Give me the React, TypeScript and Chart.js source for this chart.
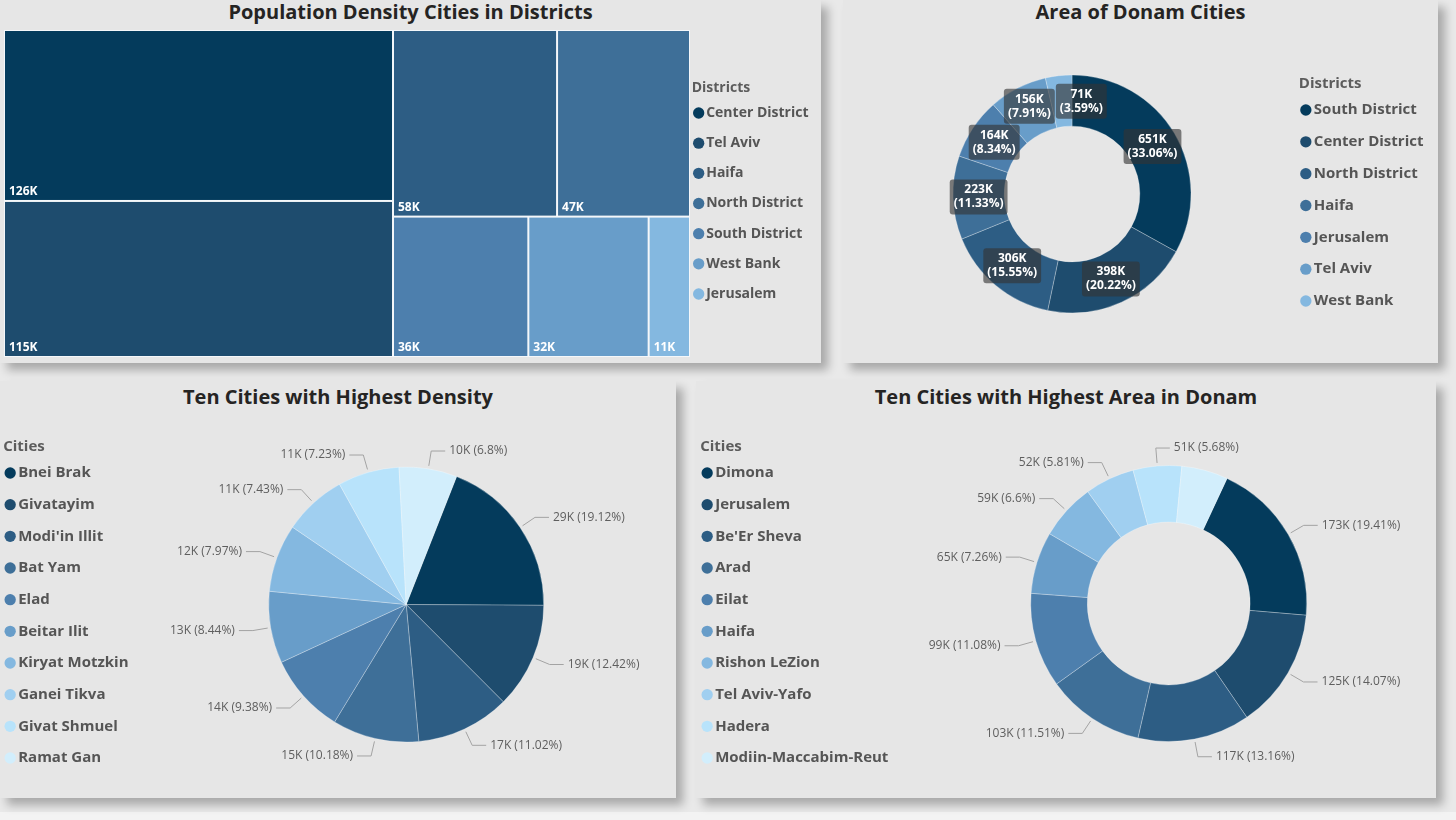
import React, { useEffect, useRef } from 'react';
import { Chart, registerables } from 'chart.js';

Chart.register(...registerables);

const FONT = "'Open Sans', 'Noto Sans', 'DejaVu Sans', sans-serif";
Chart.defaults.font.family = FONT;

const TITLE_TEXT = '#252423';
const LEGEND_TEXT = '#555555';
const HEADING_TEXT = '#5c5c5c';
const LABEL_TEXT = '#5e5e5e';
const LEADER_LINE = '#a3a3a3';

// Sequential blue palette shared by every visual
const BLUES = ['#043b5c', '#1e4c6e', '#2d5d84', '#3e6f98', '#4d7fad', '#689dc9', '#84b8e0', '#a0cff0', '#b8e3fb', '#d2eefc'];

// Population density per district (treemap)
const DENSITY_DISTRICTS = ['Center District', 'Tel Aviv', 'Haifa', 'North District', 'South District', 'West Bank', 'Jerusalem'];
const DENSITY_VALUES = [126000, 115000, 58000, 47000, 36000, 32000, 11000];

// Area in donam per district
const AREA_DISTRICTS = ['South District', 'Center District', 'North District', 'Haifa', 'Jerusalem', 'Tel Aviv', 'West Bank'];
const AREA_VALUES = [650951, 398132, 306180, 223088, 164215, 155748, 70687];

// Ten densest cities
const DENSE_CITIES = ['Bnei Brak', 'Givatayim', "Modi'in Illit", 'Bat Yam', 'Elad', 'Beitar Ilit', 'Kiryat Motzkin', 'Ganei Tikva', 'Givat Shmuel', 'Ramat Gan'];
const DENSE_CITY_VALUES = [29005, 18841, 16717, 15443, 14229, 12803, 12090, 11271, 10968, 10316];

// Ten largest cities by area in donam
const LARGE_CITIES = ['Dimona', 'Jerusalem', "Be'Er Sheva", 'Arad', 'Eilat', 'Haifa', 'Rishon LeZion', 'Tel Aviv-Yafo', 'Hadera', 'Modiin-Maccabim-Reut'];
const LARGE_CITY_VALUES = [173001, 125406, 117295, 102589, 98756, 64708, 58826, 51785, 50626, 48308];

const fmtK = (v: number) => `${Math.round(v / 1000)}K`;
const sumOf = (vals: number[]) => vals.reduce((s, v) => s + v, 0);
const fmtPct = (v: number, sum: number) => `${parseFloat(((v / sum) * 100).toFixed(2))}%`;

// Legend geometry shared by the four visuals
const LEGEND_BOX_W = 1;
const LEGEND_BOX_H = 8;

// Width Chart.js gives a single-column vertical legend (padding + marker + gap + text + 10)
function legendWidth(names: string[], fontSize: number, padding: number) {
  const ctx = document.createElement('canvas').getContext('2d')!;
  ctx.font = `bold ${fontSize}px ${FONT}`;
  const textW = Math.max(...names.map((t) => ctx.measureText(t).width));
  return padding + LEGEND_BOX_W + fontSize / 2 + textW + 10;
}

type Rect = { i: number; x0: number; y0: number; x1: number; y1: number };

// Squarified treemap layout (golden-ratio target), same scheme as d3.treemapSquarify
function squarify(values: number[], X0: number, Y0: number, X1: number, Y1: number): Rect[] {
  const ratio = (1 + Math.sqrt(5)) / 2;
  const order = values.map((_, i) => i).sort((a, b) => values[b] - values[a]);
  const out: Rect[] = [];
  let x0 = X0, y0 = Y0;
  const x1 = X1, y1 = Y1;
  let value = sumOf(values);
  let i0 = 0, i1 = 0;
  const n = order.length;
  while (i0 < n) {
    const dx = x1 - x0, dy = y1 - y0;
    let sumValue = values[order[i1++]];
    let minValue = sumValue, maxValue = sumValue;
    const alpha = Math.max(dy / dx, dx / dy) / (value * ratio);
    let beta = sumValue * sumValue * alpha;
    let minRatio = Math.max(maxValue / beta, beta / minValue);
    for (; i1 < n; ++i1) {
      const nodeValue = values[order[i1]];
      sumValue += nodeValue;
      if (nodeValue < minValue) minValue = nodeValue;
      if (nodeValue > maxValue) maxValue = nodeValue;
      beta = sumValue * sumValue * alpha;
      const newRatio = Math.max(maxValue / beta, beta / minValue);
      if (newRatio > minRatio) { sumValue -= nodeValue; break; }
      minRatio = newRatio;
    }
    const row = order.slice(i0, i1);
    if (dx < dy) {
      const ny = y0 + (dy * sumValue) / value;
      let cx = x0;
      for (const k of row) {
        const w = (dx * values[k]) / sumValue;
        out.push({ i: k, x0: cx, y0, x1: cx + w, y1: ny });
        cx += w;
      }
      y0 = ny;
    } else {
      const nx = x0 + (dx * sumValue) / value;
      let cy = y0;
      for (const k of row) {
        const h = (dy * values[k]) / sumValue;
        out.push({ i: k, x0, y0: cy, x1: nx, y1: cy + h });
        cy += h;
      }
      x0 = nx;
    }
    value -= sumValue;
    i0 = i1;
  }
  return out;
}

// Draws the treemap cells inside the unit square of the x/y scales
const treemapPlugin = {
  id: 'treemap',
  afterDatasetsDraw(chart: any) {
    const ds = chart.data.datasets[0];
    const values: number[] = ds.tree;
    const colors: string[] = ds.colors;
    const xs = chart.scales.x, ys = chart.scales.y;
    const left = xs.getPixelForValue(0), right = xs.getPixelForValue(1);
    const top = ys.getPixelForValue(0), bottom = ys.getPixelForValue(1);
    const ctx = chart.ctx;
    ctx.save();
    ctx.fillStyle = '#f4f7fa';
    ctx.fillRect(left, top, right - left, bottom - top);
    const cells = squarify(values, left, top, right, bottom);
    ctx.font = `bold 12px ${FONT}`;
    ctx.textAlign = 'left';
    ctx.textBaseline = 'middle';
    for (const c of cells) {
      ctx.fillStyle = colors[c.i];
      ctx.fillRect(c.x0 + 1, c.y0 + 1, c.x1 - c.x0 - 2, c.y1 - c.y0 - 2);
      ctx.fillStyle = '#ffffff';
      ctx.fillText(fmtK(values[c.i]), c.x0 + 5, c.y1 - 9);
    }
    ctx.restore();
  },
};

type Box = { x: number; y: number; w: number; h: number; l1: string; l2: string };
const boxesOverlap = (a: Box, b: Box) =>
  Math.abs(a.x - b.x) < (a.w + b.w) / 2 + 1 && Math.abs(a.y - b.y) < (a.h + b.h) / 2 + 1;

// Value / percentage tags sitting on the donut ring
const boxLabelPlugin = {
  id: 'boxLabels',
  afterDatasetsDraw(chart: any) {
    const meta = chart.getDatasetMeta(0);
    const vals: number[] = chart.data.datasets[0].data;
    const sum = sumOf(vals);
    const ctx = chart.ctx;
    ctx.save();
    ctx.font = `bold 12px ${FONT}`;
    const placed: Box[] = [];
    meta.data.forEach((arc: any, i: number) => {
      const p = arc.tooltipPosition(true);
      const l1 = fmtK(vals[i]);
      const l2 = `(${fmtPct(vals[i], sum)})`;
      const w = Math.max(ctx.measureText(l1).width, ctx.measureText(l2).width) + 8;
      const box: Box = { x: p.x, y: p.y, w, h: 35, l1, l2 };
      for (let pass = 0; pass < 4; pass++) {
        const hit = placed.find((b) => boxesOverlap(box, b));
        if (!hit) break;
        const cands = [
          { x: box.x, y: hit.y - (hit.h + box.h) / 2 - 1 },
          { x: box.x, y: hit.y + (hit.h + box.h) / 2 + 1 },
          { x: hit.x - (hit.w + box.w) / 2 - 1, y: box.y },
          { x: hit.x + (hit.w + box.w) / 2 + 1, y: box.y },
        ].map((c) => ({ ...c, d: Math.hypot(c.x - box.x, c.y - box.y) }));
        cands.sort((a, b) => a.d - b.d);
        const free = cands.find((c) => !placed.some((b) => boxesOverlap({ ...box, x: c.x, y: c.y }, b))) || cands[0];
        box.x = free.x;
        box.y = free.y;
      }
      placed.push(box);
    });
    placed.forEach((b) => {
      ctx.fillStyle = 'rgba(52,52,52,0.62)';
      ctx.beginPath();
      ctx.roundRect(b.x - b.w / 2, b.y - b.h / 2, b.w, b.h, 3);
      ctx.fill();
      ctx.fillStyle = '#ffffff';
      ctx.textAlign = 'center';
      ctx.textBaseline = 'middle';
      ctx.fillText(b.l1, b.x, b.y - 7);
      ctx.fillText(b.l2, b.x, b.y + 7);
    });
    ctx.restore();
  },
};

// Outside labels with leader lines; labels that would collide are skipped
const calloutPlugin = {
  id: 'callouts',
  afterDatasetsDraw(chart: any) {
    const meta = chart.getDatasetMeta(0);
    const vals: number[] = chart.data.datasets[0].data;
    const sum = sumOf(vals);
    const ctx = chart.ctx;
    ctx.save();
    ctx.font = `12px ${FONT}`;
    ctx.textBaseline = 'middle';
    ctx.lineWidth = 1;
    const placed: { l: number; r: number; t: number; b: number }[] = [];
    meta.data.forEach((arc: any, i: number) => {
      const { x, y, startAngle, endAngle, outerRadius } = arc.getProps(['x', 'y', 'startAngle', 'endAngle', 'outerRadius'], true);
      const a = (startAngle + endAngle) / 2;
      const ux = Math.cos(a), uy = Math.sin(a);
      const side = ux > -0.1 ? 1 : -1;
      const p1x = x + ux * (outerRadius + 3), p1y = y + uy * (outerRadius + 3);
      const p2x = x + ux * (outerRadius + 18), p2y = y + uy * (outerRadius + 18);
      const p3x = p2x + side * 14;
      const text = `${fmtK(vals[i])} (${fmtPct(vals[i], sum)})`;
      const tw = ctx.measureText(text).width;
      const tx = p3x + side * 4;
      const rect = side > 0 ? { l: tx, r: tx + tw, t: p2y - 7, b: p2y + 7 } : { l: tx - tw, r: tx, t: p2y - 7, b: p2y + 7 };
      if (placed.some((q) => q.l < rect.r && rect.l < q.r && q.t < rect.b && rect.t < q.b)) return;
      placed.push(rect);
      ctx.strokeStyle = LEADER_LINE;
      ctx.beginPath();
      ctx.moveTo(p1x, p1y);
      ctx.lineTo(p2x, p2y);
      ctx.lineTo(p3x, p2y);
      ctx.stroke();
      ctx.fillStyle = LABEL_TEXT;
      ctx.textAlign = side > 0 ? 'left' : 'right';
      ctx.fillText(text, tx, p2y);
    });
    ctx.restore();
  },
};

// Heading above the legend items, aligned with the markers
const legendHeadingPlugin = {
  id: 'legendHeading',
  afterDraw(chart: any, _args: any, opts: any) {
    const hb = chart.legend && chart.legend.legendHitBoxes && chart.legend.legendHitBoxes[0];
    if (!hb || !opts || !opts.text) return;
    const ctx = chart.ctx;
    ctx.save();
    ctx.font = `bold ${opts.size}px ${FONT}`;
    ctx.fillStyle = HEADING_TEXT;
    ctx.textAlign = 'left';
    ctx.textBaseline = 'middle';
    ctx.fillText(opts.text, hb.left - 6.5, hb.top + opts.size / 2 - opts.gap);
    ctx.restore();
  },
};

// Nudges the legend box sideways once the layout is settled
const legendShiftPlugin = {
  id: 'legendShift',
  afterLayout(chart: any, _args: any, opts: any) {
    const lg = chart.legend;
    if (!lg || !opts || !opts.dx) return;
    lg.left += opts.dx;
    lg.right += opts.dx;
  },
};

function legendConfig(position: 'left' | 'right', names: string[], colors: string[], fontSize: number, padding: number, titlePad: number) {
  return {
    display: true,
    position,
    align: 'center',
    onClick: () => {},
    title: { display: true, text: '', padding: { top: 0, bottom: titlePad }, font: { size: fontSize, weight: 'bold' } },
    labels: {
      usePointStyle: true,
      pointStyle: 'circle',
      boxWidth: LEGEND_BOX_W,
      boxHeight: LEGEND_BOX_H,
      padding,
      color: LEGEND_TEXT,
      font: { size: fontSize, weight: 'bold', family: FONT },
      generateLabels: () =>
        names.map((text, i) => ({
          text,
          fillStyle: colors[i],
          strokeStyle: colors[i],
          lineWidth: 0,
          pointStyle: 'circle',
          hidden: false,
          index: i,
          datasetIndex: 0,
          fontColor: LEGEND_TEXT,
        })),
    },
  };
}

const baseOptions = { responsive: false, animation: false, events: [], devicePixelRatio: 1 };
const SLICE_EDGE = 'rgba(255,255,255,0.28)';

type ChartBox = { left: number; top: number; width: number; height: number; config: any };

// Right-hand legend: the plot area ends at `plotRight` (canvas px)
function rightLegendFrame(names: string[], fontSize: number, padding: number, plotRight: number) {
  const lw = legendWidth(names, fontSize, padding);
  const width = Math.ceil(plotRight + lw) + 4;
  return { width, padRight: width - plotRight - lw };
}

// Left-hand legend: the plot area is centred on `centerX` (canvas px)
function leftLegendFrame(names: string[], fontSize: number, padding: number, centerX: number) {
  const lw = legendWidth(names, fontSize, padding);
  const plotRight = 2 * centerX - lw;
  const width = Math.ceil(plotRight) + 10;
  return { width, padRight: width - plotRight };
}

function makeBoxes(): ChartBox[] {
  const tmPad = 16.17;
  const tm = rightLegendFrame(DENSITY_DISTRICTS, 14, tmPad, 690);
  const treemapBox: ChartBox = {
    left: 0, top: 0, width: tm.width, height: 363,
    config: {
      type: 'scatter',
      data: { datasets: [{ label: 'Population density', data: [], tree: DENSITY_VALUES, colors: BLUES }] },
      options: {
        ...baseOptions,
        layout: { padding: { left: 4, top: 30, right: tm.padRight, bottom: 6 } },
        scales: {
          x: { type: 'linear', min: 0, max: 1, display: false },
          y: { type: 'linear', min: 0, max: 1, reverse: true, display: false },
        },
        plugins: {
          legend: legendConfig('right', DENSITY_DISTRICTS, BLUES, 14, tmPad, 3.2),
          tooltip: { enabled: false },
          legendHeading: { text: 'Districts', size: 14, gap: 25 },
          legendShift: { dx: -8 },
        },
      },
      plugins: [treemapPlugin, legendShiftPlugin, legendHeadingPlugin],
    },
  };

  const arPad = 16.83;
  const arLeft = 843;
  const ar = rightLegendFrame(AREA_DISTRICTS, 15, arPad, 1288.5 - arLeft);
  const areaBox: ChartBox = {
    left: arLeft, top: 0, width: ar.width, height: 363,
    config: {
      type: 'doughnut',
      data: { labels: AREA_DISTRICTS, datasets: [{ data: AREA_VALUES, backgroundColor: BLUES.slice(0, 7), borderColor: SLICE_EDGE, borderWidth: 1 }] },
      options: {
        ...baseOptions,
        cutout: '57%',
        radius: 119,
        rotation: 0,
        layout: { padding: { left: 2 * (1072 - arLeft) - (1288.5 - arLeft), top: 25, right: ar.padRight, bottom: 0 } },
        plugins: {
          legend: legendConfig('right', AREA_DISTRICTS, BLUES, 15, arPad, 5),
          tooltip: { enabled: false },
          legendHeading: { text: 'Districts', size: 15, gap: 26 },
        },
      },
      plugins: [boxLabelPlugin, legendHeadingPlugin],
    },
  };

  const cityPad = 16.67;
  const dpLeft = -7.2;
  const dp = leftLegendFrame(DENSE_CITIES, 15, cityPad, 406 - dpLeft);
  const densityPieBox: ChartBox = {
    left: dpLeft, top: 400, width: dp.width, height: 409,
    config: {
      type: 'pie',
      data: { labels: DENSE_CITIES, datasets: [{ data: DENSE_CITY_VALUES, backgroundColor: BLUES, borderColor: SLICE_EDGE, borderWidth: 1 }] },
      options: {
        ...baseOptions,
        radius: 137.5,
        rotation: 21.5,
        layout: { padding: { left: 0, top: 0, right: dp.padRight, bottom: 0 } },
        plugins: {
          legend: legendConfig('left', DENSE_CITIES, BLUES, 15, cityPad, 4),
          tooltip: { enabled: false },
          legendHeading: { text: 'Cities', size: 15, gap: 26 },
        },
      },
      plugins: [calloutPlugin, legendHeadingPlugin],
    },
  };

  const adLeft = 689.8;
  const ad = leftLegendFrame(LARGE_CITIES, 15, cityPad, 1168.5 - adLeft);
  const areaDonutBox: ChartBox = {
    left: adLeft, top: 400, width: ad.width, height: 407,
    config: {
      type: 'doughnut',
      data: { labels: LARGE_CITIES, datasets: [{ data: LARGE_CITY_VALUES, backgroundColor: BLUES, borderColor: SLICE_EDGE, borderWidth: 1 }] },
      options: {
        ...baseOptions,
        cutout: '59%',
        radius: 138,
        rotation: 25,
        layout: { padding: { left: 0, top: 0, right: ad.padRight, bottom: 0 } },
        plugins: {
          legend: legendConfig('left', LARGE_CITIES, BLUES, 15, cityPad, 6),
          tooltip: { enabled: false },
          legendHeading: { text: 'Cities', size: 15, gap: 26 },
        },
      },
      plugins: [calloutPlugin, legendHeadingPlugin],
    },
  };

  return [treemapBox, areaBox, densityPieBox, areaDonutBox];
}

function ChartCanvas({ box }: { box: ChartBox }) {
  const ref = useRef<HTMLCanvasElement | null>(null);
  useEffect(() => {
    if (!ref.current) return;
    const chart = new Chart(ref.current, box.config);
    return () => chart.destroy();
  }, [box]);
  return (
    <canvas
      ref={ref}
      width={box.width}
      height={box.height}
      style={{ position: 'absolute', left: box.left, top: box.top, width: box.width, height: box.height }}
    />
  );
}

type PanelSpec = { left: number; top: number; width: number; height: number; title: string; titleTop: number };

const PANELS: PanelSpec[] = [
  { left: 0, top: 0, width: 821, height: 363, title: 'Population Density Cities in Districts', titleTop: 0 },
  { left: 843, top: 0, width: 595, height: 363, title: 'Area of Donam Cities', titleTop: 0 },
  { left: 0, top: 381, width: 676, height: 417, title: 'Ten Cities with Highest Density', titleTop: 385 },
  { left: 696, top: 381, width: 740, height: 417, title: 'Ten Cities with Highest Area in Donam', titleTop: 385 },
];

export default function App() {
  const boxesRef = useRef<ChartBox[] | null>(null);
  if (!boxesRef.current) boxesRef.current = makeBoxes();
  const boxes = boxesRef.current;

  useEffect(() => {
    document.body.style.margin = '0';
    document.body.style.background = '#e9e9e9';
  }, []);

  return (
    <div style={{ position: 'absolute', left: 0, top: 0, width: 1456, height: 820, overflow: 'hidden', background: '#e9e9e9', fontFamily: FONT }}>
      <div style={{ position: 'absolute', left: 0, top: 812, width: 1456, height: 8, background: '#f3f3f3' }} />
      {PANELS.map((p) => (
        <div
          key={p.title}
          style={{
            position: 'absolute',
            left: p.left,
            top: p.top,
            width: p.width,
            height: p.height,
            background: '#e6e6e6',
            boxShadow: '7px 7px 9px rgba(0,0,0,0.28)',
          }}
        />
      ))}
      {PANELS.map((p) => (
        <div
          key={`t-${p.title}`}
          style={{
            position: 'absolute',
            left: p.left,
            top: p.titleTop,
            width: p.width,
            textAlign: 'center',
            fontFamily: FONT,
            fontWeight: 700,
            fontSize: 20,
            lineHeight: '24px',
            color: TITLE_TEXT,
            whiteSpace: 'nowrap',
          }}
        >
          {p.title}
        </div>
      ))}
      {boxes.map((b, i) => (
        <ChartCanvas key={i} box={b} />
      ))}
    </div>
  );
}
